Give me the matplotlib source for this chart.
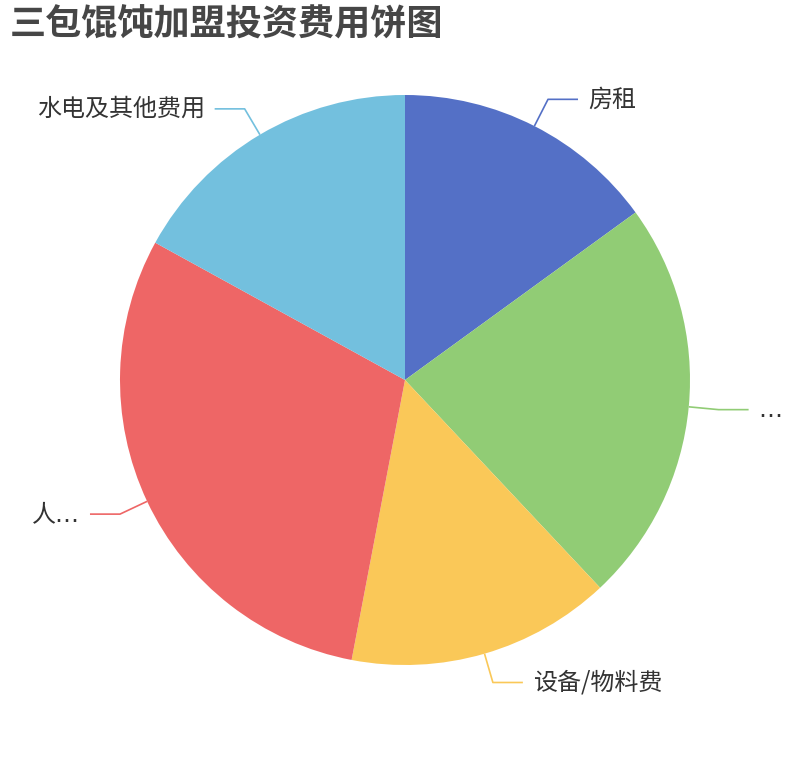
import matplotlib.pyplot as plt
import numpy as np

plt.rcParams['font.family'] = ['Noto Sans CJK SC', 'DejaVu Sans']

# data (share of total, %)
names = ['房租', '…', '设备/物料费', '人…', '水电及其他费用']
values = [15, 23, 15, 30, 17]
colors = ['#5470c6', '#91cc75', '#fac858', '#ee6666', '#73c0de']

W, H = 810, 760
fig = plt.figure(figsize=(W / 100, H / 100), dpi=100)
ax = fig.add_axes([0, 0, 1, 1])

cx, cy, r = 405, H - 380, 285
wedges, _ = ax.pie(values, colors=colors, startangle=90, counterclock=False,
                   center=(cx, cy), radius=r, wedgeprops=dict(linewidth=0))
ax.set_xlim(0, W)
ax.set_ylim(0, H)
ax.set_aspect('equal')
ax.axis('off')

# label lines: out from the slice middle, then a short horizontal run
for w, name, c in zip(wedges, names, colors):
    mid = np.deg2rad((w.theta1 + w.theta2) / 2)
    x0, y0 = cx + r * np.cos(mid), cy + r * np.sin(mid)
    x1, y1 = cx + (r + 30) * np.cos(mid), cy + (r + 30) * np.sin(mid)
    side = 1 if np.cos(mid) >= 0 else -1
    x2 = x1 + side * 30
    ax.plot([x0, x1, x2], [y0, y1, y1], color=c, lw=1.2, solid_capstyle='butt')
    # truncated labels: latin ellipsis sits on the baseline
    fam = ['DejaVu Sans', 'Noto Sans CJK SC'] if '…' in name else None
    ax.text(x2 + side * 10, y1, name, fontsize=17.3, color='#333333',
            ha='left' if side > 0 else 'right', va='center', family=fam)

fig.text(10 / W, 1 - 25 / H, '三包馄饨加盟投资费用饼图', fontsize=26,
         fontweight='bold', color='#464646', ha='left', va='center')

fig.savefig('out.png', dpi=100)
